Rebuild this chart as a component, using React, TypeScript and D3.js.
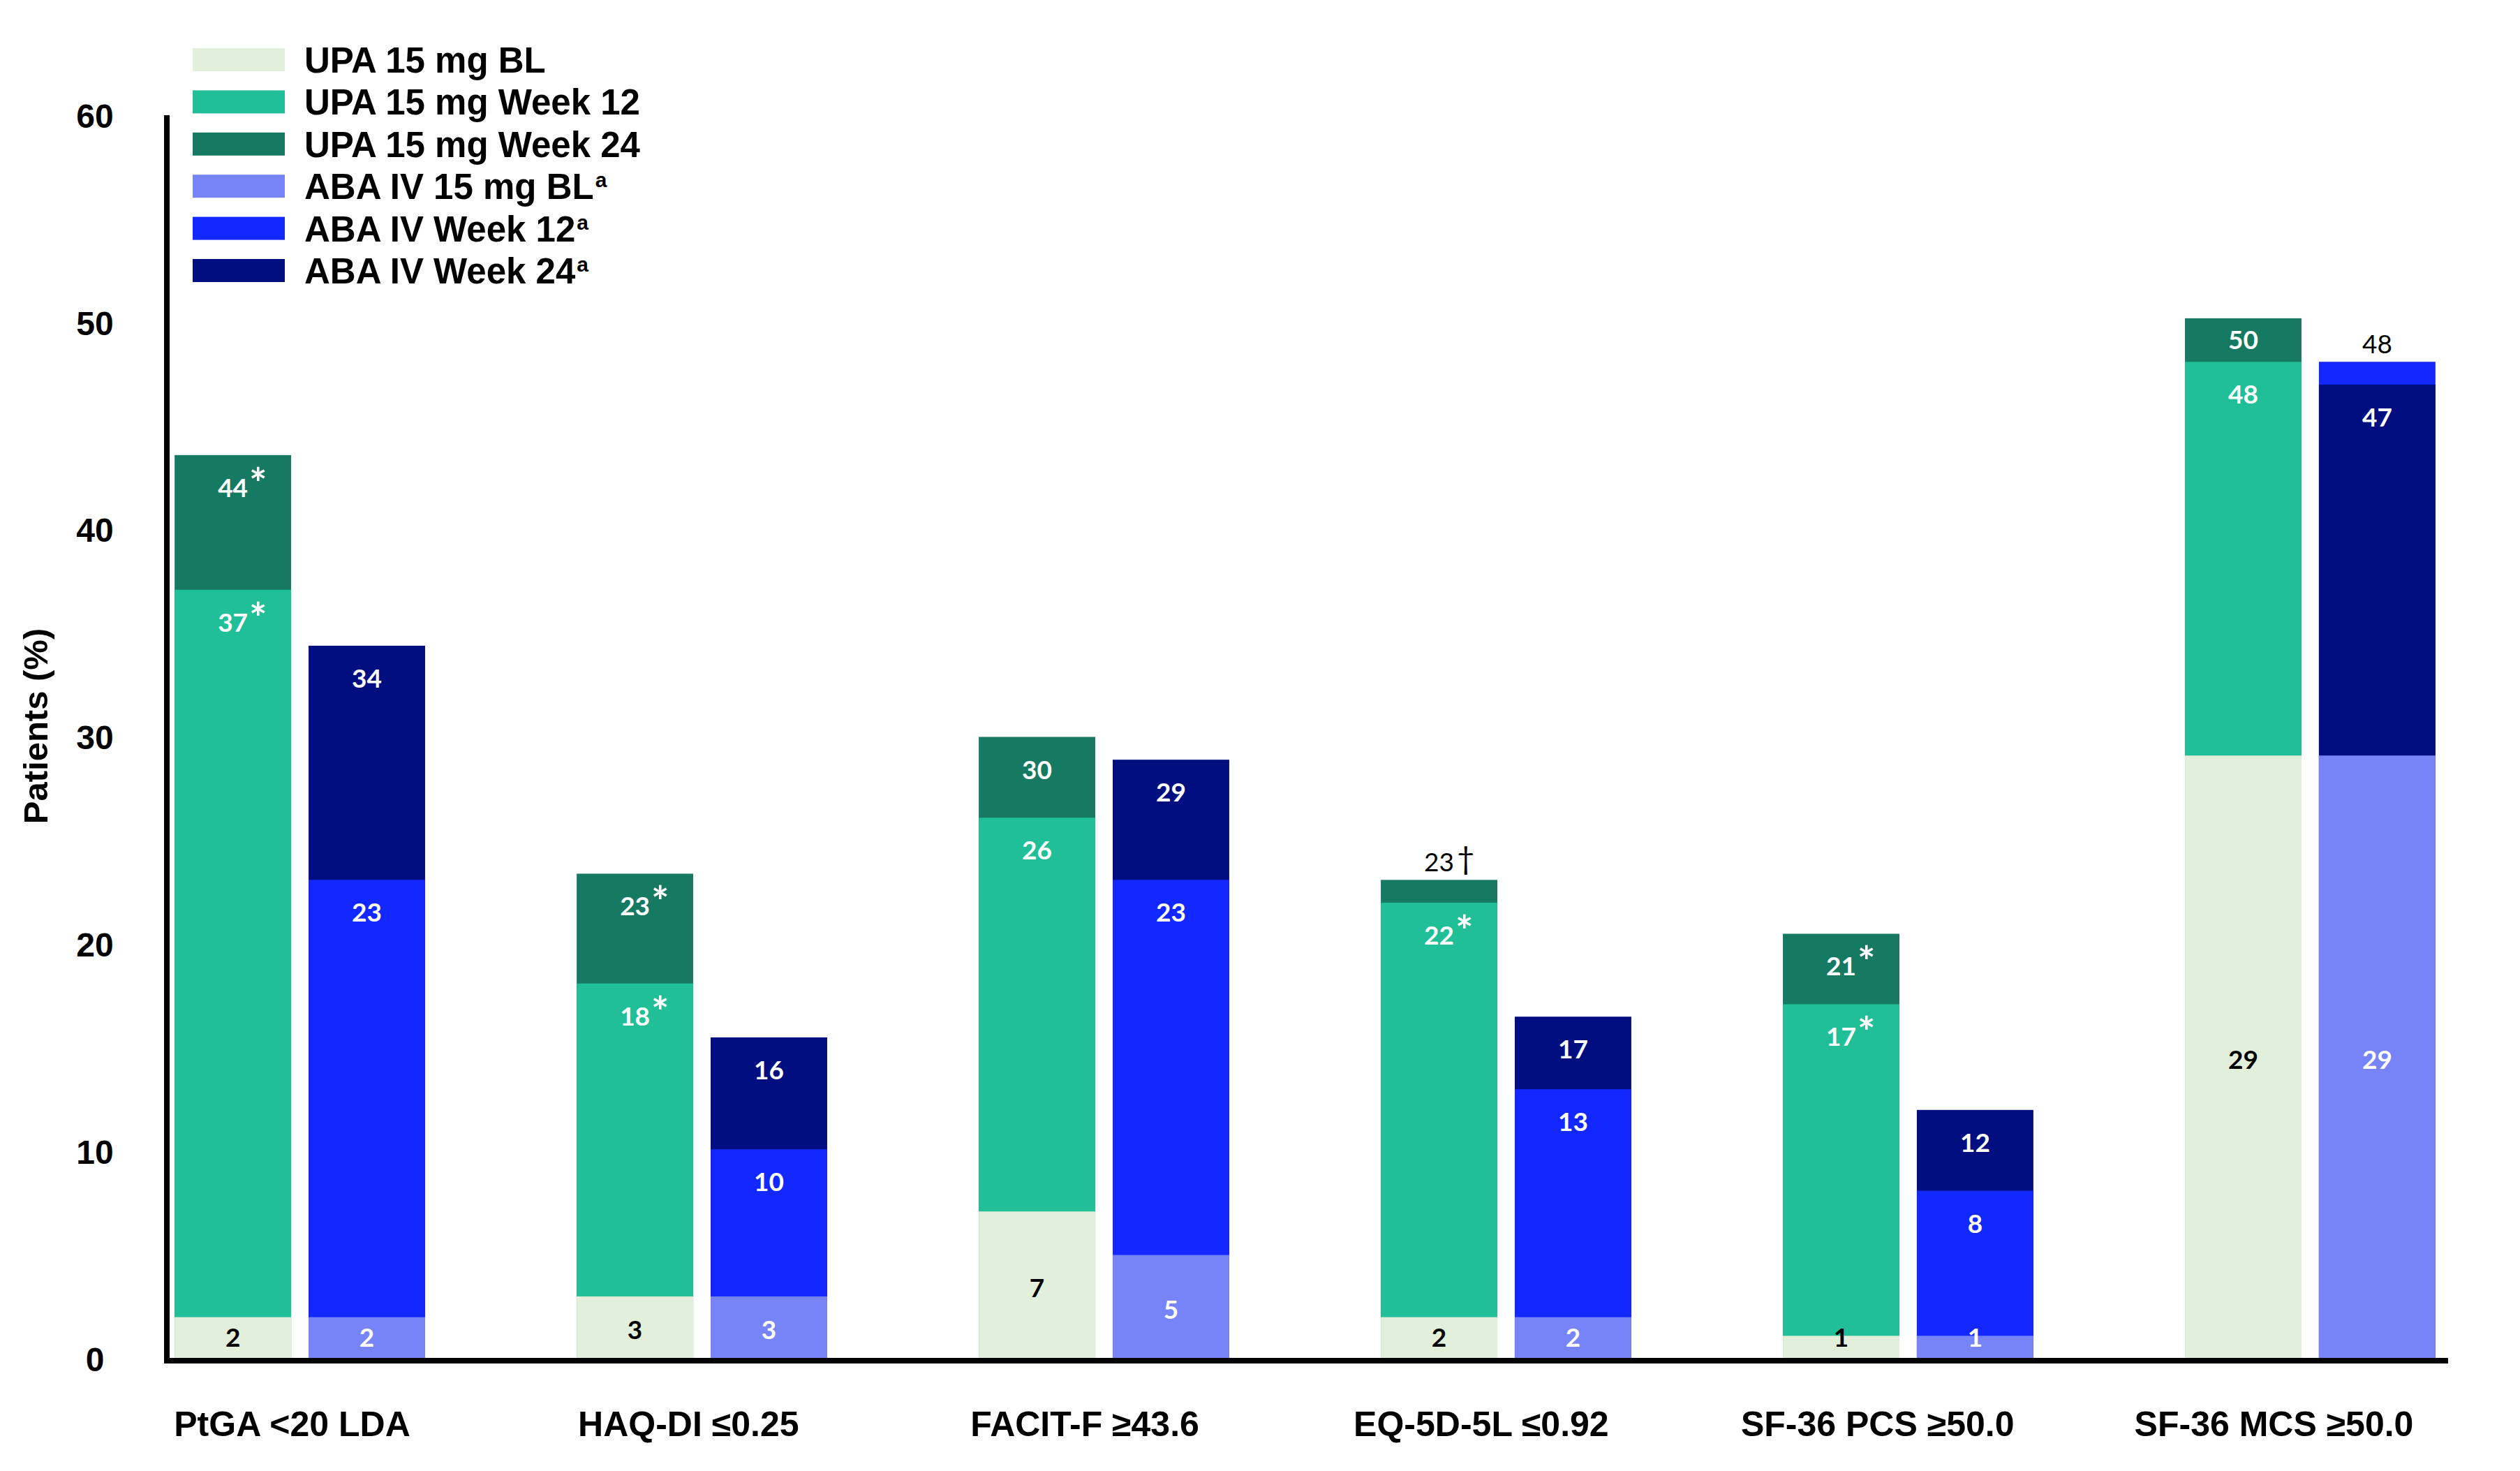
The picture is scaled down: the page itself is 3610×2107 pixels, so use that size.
import * as d3 from "d3";
import { useEffect, useRef } from "react";

const categories = [
  "PtGA <20 LDA",
  "HAQ-DI ≤0.25",
  "FACIT-F ≥43.6",
  "EQ-5D-5L ≤0.92",
  "SF-36 PCS ≥50.0",
  "SF-36 MCS ≥50.0",
];

// bar heights (% patients)
const upaBL = [2.0, 3.0, 7.1, 2.0, 1.1, 29.1];
const upaW12 = [37.1, 18.1, 26.1, 22.0, 17.1, 48.1];
const upaW24 = [43.6, 23.4, 30.0, 23.1, 20.5, 50.2];
const abaBL = [2.0, 3.0, 5.0, 2.0, 1.1, 29.1];
const abaW12 = [23.1, 10.1, 23.1, 13.0, 8.1, 48.1];
const abaW24 = [34.4, 15.5, 28.9, 16.5, 12.0, 47.0];

// printed labels
const upaBLLabel = ["2", "3", "7", "2", "1", "29"];
const upaW12Label = ["37", "18", "26", "22", "17", "48"];
const upaW24Label = ["44", "23", "30", "23", "21", "50"];
const abaBLLabel = ["2", "3", "5", "2", "1", "29"];
const abaW12Label = ["23", "10", "23", "13", "8", "48"];
const abaW24Label = ["34", "16", "29", "17", "12", "47"];
const upaW12Mark = ["*", "*", "", "*", "*", ""];
const upaW24Mark = ["*", "*", "", "†", "*", ""];
const noMark = ["", "", "", "", "", ""];

const yTicks = [0, 10, 20, 30, 40, 50, 60];
const groups = ["UPA", "ABA"];

type Series = {
  name: string;
  sup: string;
  group: string;
  stage: "BL" | "W12" | "W24";
  color: string;
  text: string;
  values: number[];
  labels: string[];
  marks: string[];
};

const series: Series[] = [
  { name: "UPA 15 mg BL", sup: "", group: "UPA", stage: "BL", color: "#E2EFDA", text: "#000", values: upaBL, labels: upaBLLabel, marks: noMark },
  { name: "UPA 15 mg Week 12", sup: "", group: "UPA", stage: "W12", color: "#21BF97", text: "#fff", values: upaW12, labels: upaW12Label, marks: upaW12Mark },
  { name: "UPA 15 mg Week 24", sup: "", group: "UPA", stage: "W24", color: "#167A62", text: "#fff", values: upaW24, labels: upaW24Label, marks: upaW24Mark },
  { name: "ABA IV 15 mg BL", sup: "a", group: "ABA", stage: "BL", color: "#7784F8", text: "#fff", values: abaBL, labels: abaBLLabel, marks: noMark },
  { name: "ABA IV Week 12", sup: "a", group: "ABA", stage: "W12", color: "#1228FE", text: "#fff", values: abaW12, labels: abaW12Label, marks: noMark },
  { name: "ABA IV Week 24", sup: "a", group: "ABA", stage: "W24", color: "#000E7F", text: "#fff", values: abaW24, labels: abaW24Label, marks: noMark },
];

const W = 3610;
const H = 2107;
const ARIAL = "'Liberation Sans', Arial, sans-serif";
const LATO = "Lato, 'Open Sans', sans-serif";

export default function App() {
  const ref = useRef<SVGSVGElement | null>(null);

  useEffect(() => {
    if (!ref.current) return;
    const svg = d3.select(ref.current);
    svg.selectAll("*").remove();

    const y = d3.scaleLinear().domain([0, 60]).range([1946, 165]);
    const x0 = d3.scaleBand().domain(categories).range([33, 3706]).paddingInner(0.377).paddingOuter(0.377);
    const x1 = d3.scaleBand().domain(groups).range([0, x0.bandwidth()]).paddingInner(0.13);
    // category captions sit in their own evenly spaced text boxes
    const xl = d3.scalePoint().domain(categories).range([418, 3257]);

    // bars: per category and group, taller levels drawn first
    const bars = svg.append("g");
    const labels = svg.append("g");
    categories.forEach((cat, i) => {
      groups.forEach((g) => {
        const items = series
          .filter((s) => s.group === g)
          .map((s) => ({ s, v: s.values[i] }))
          .sort((a, b) => b.v - a.v);
        const bx = (x0(cat) ?? 0) + (x1(g) ?? 0);
        const bw = x1.bandwidth();
        const cx = bx + bw / 2;

        bars.selectAll(null)
          .data(items)
          .enter()
          .append("rect")
          .attr("x", bx)
          .attr("y", (d) => y(d.v))
          .attr("width", bw)
          .attr("height", (d) => y(0) - y(d.v))
          .attr("fill", (d) => d.s.color);

        items.forEach((d, k) => {
          const top = y(d.v);
          const bottom = k + 1 < items.length ? y(items[k + 1].v) : y(0);
          const seg = bottom - top;
          let base: number;
          let outside = false;
          if (d.s.stage === "BL") {
            base = Math.min((top + bottom) / 2 + 4, bottom - 30) + 13;
          } else if (seg < 45) {
            outside = true;
            base = top - 12;
          } else {
            base = top + Math.min(47, seg / 2) + 13;
          }
          const t = labels.append("text")
            .attr("x", cx)
            .attr("y", base)
            .attr("text-anchor", "middle")
            .attr("font-family", LATO)
            .attr("font-size", 37)
            .attr("font-weight", outside ? 400 : 700)
            .attr("fill", outside ? "#000" : d.s.text)
            .text(d.s.labels[i]);
          const mark = d.s.marks[i];
          if (mark) {
            const len = (t.node() as SVGTextElement).getComputedTextLength();
            const star = mark === "*";
            labels.append("text")
              .attr("x", cx + len / 2 + (star ? 2 : 4))
              .attr("y", star ? base + 2 : base - 3)
              .attr("font-family", LATO)
              .attr("font-size", star ? 60 : 44)
              .attr("font-weight", star ? 700 : 400)
              .attr("fill", outside ? "#000" : d.s.text)
              .text(mark);
          }
        });
      });
    });

    // y axis
    const yAxis = svg.append("g")
      .attr("transform", "translate(239,0)")
      .call(d3.axisLeft(y).tickValues(yTicks).tickSize(0).tickFormat(d3.format("d")));
    yAxis.select(".domain").remove();
    yAxis.selectAll("text")
      .attr("x", -103)
      .attr("dy", "0.36em")
      .attr("text-anchor", "middle")
      .attr("font-family", ARIAL)
      .attr("font-weight", 700)
      .attr("font-size", 48)
      .attr("fill", "#000");
    svg.append("line")
      .attr("x1", 239).attr("x2", 239)
      .attr("y1", y(60)).attr("y2", 1953)
      .attr("stroke", "#000").attr("stroke-width", 8);

    // x axis
    const xAxis = svg.append("g")
      .attr("transform", "translate(0,1949)")
      .call(d3.axisBottom(xl).tickSize(0));
    xAxis.select(".domain").remove();
    xAxis.selectAll("text")
      .attr("y", 108)
      .attr("dy", 0)
      .attr("font-family", ARIAL)
      .attr("font-weight", 700)
      .attr("font-size", 50)
      .attr("fill", "#000");
    svg.append("line")
      .attr("x1", 235).attr("x2", 3507)
      .attr("y1", 1949).attr("y2", 1949)
      .attr("stroke", "#000").attr("stroke-width", 8);

    svg.append("text")
      .attr("transform", "translate(68,1040) rotate(-90)")
      .attr("text-anchor", "middle")
      .attr("font-family", ARIAL)
      .attr("font-weight", 700)
      .attr("font-size", 49)
      .text("Patients (%)");

    // legend
    const leg = svg.append("g")
      .selectAll("g")
      .data(series)
      .enter()
      .append("g")
      .attr("transform", (_, i) => `translate(276,${69 + i * 60.4})`);
    leg.append("rect").attr("width", 132).attr("height", 33).attr("fill", (d) => d.color);
    const lt = leg.append("text")
      .attr("x", 160)
      .attr("y", 35)
      .attr("font-family", ARIAL)
      .attr("font-weight", 700)
      .attr("font-size", 51)
      .attr("fill", "#000");
    lt.append("tspan").text((d) => d.name);
    lt.filter((d) => d.sup !== "")
      .append("tspan")
      .attr("dx", 2)
      .attr("dy", -17)
      .attr("font-size", 30)
      .text((d) => d.sup);
  }, []);

  return (
    <svg
      ref={ref}
      width={W}
      height={H}
      viewBox={`0 0 ${W} ${H}`}
      style={{ position: "absolute", left: 0, top: 0, background: "#fff" }}
    />
  );
}
